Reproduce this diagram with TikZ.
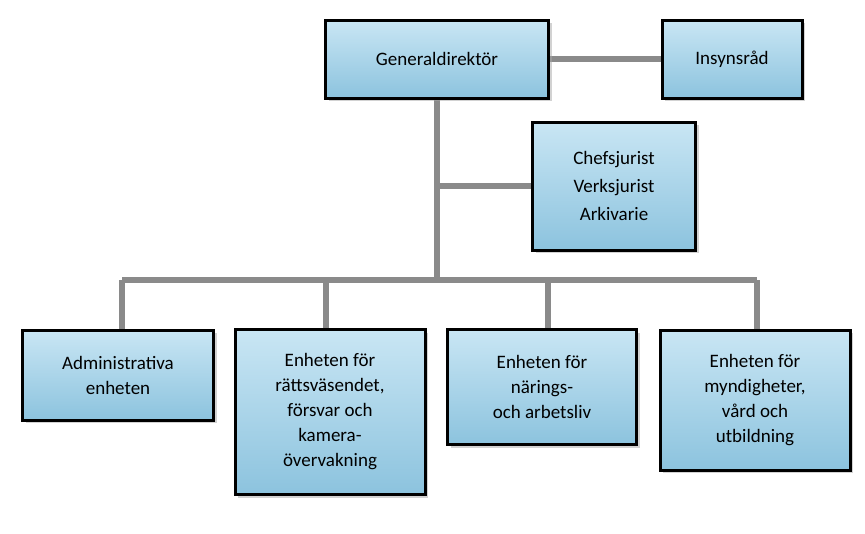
\documentclass[tikz,border=0pt]{standalone}
\usepackage{fontspec}
\setmainfont{Carlito}
\usetikzlibrary{shadows}
\definecolor{boxtop}{HTML}{C9E6F4}
\definecolor{boxbot}{HTML}{8CC3DE}
\definecolor{linegray}{HTML}{8A8A8A}
\tikzset{
  unit/.style={draw=black, line width=3pt, top color=boxtop, bottom color=boxbot,
    drop shadow={shadow xshift=3pt, shadow yshift=-3pt, fill=black!35},
    align=center, font=\fontsize{19}{25}\selectfont, inner sep=0pt},
  link/.style={draw=linegray, line width=6pt}
}
\begin{document}
\begin{tikzpicture}[x=1pt,y=-1pt]
	\useasboundingbox (0,0) rectangle (865,533);
	% lines first
	\coordinate (top) at (437,59);
	\coordinate (mid) at (437,186);
	\coordinate (bus) at (437,280);
	\coordinate (b1) at (122,280);
	\coordinate (b2) at (326,280);
	\coordinate (b3) at (548,280);
	\coordinate (b4) at (757,280);
	\draw[link] (top) -- (bus);
	\draw[link] (b1) -- (b4);
	\draw[link] (top) -- (732,59);
	\draw[link] (mid) -- (614,186);
	\foreach \b in {b1,b2,b3,b4}
		\draw[link] (\b) -- ++(0,60);
	
	\node[unit, minimum width=223pt, minimum height=78pt] (gd) at (437,59) {Generaldirektör};
	\node[unit, minimum width=140pt, minimum height=78pt] (ins) at (732,59) {Insynsråd};
	\node[unit, minimum width=163pt, minimum height=128pt] (jur) at (614,186) {Chefsjurist\\[3pt]Verksjurist\\[3pt]Arkivarie};
	\node[unit, minimum width=191pt, minimum height=90pt] (adm) at (118,375) {Administrativa\\enheten};
	\node[unit, minimum width=190pt, minimum height=165pt] (rat) at (330,412) {Enheten för\\rättsväsendet,\\försvar och\\kamera-\\övervakning};
	\node[unit, minimum width=189pt, minimum height=115pt] (nar) at (542,387) {Enheten för\\närings-\\och arbetsliv};
	\node[unit, minimum width=190pt, minimum height=140pt] (myn) at (755,400) {Enheten för\\myndigheter,\\vård och\\utbildning};
\end{tikzpicture}
\end{document}
